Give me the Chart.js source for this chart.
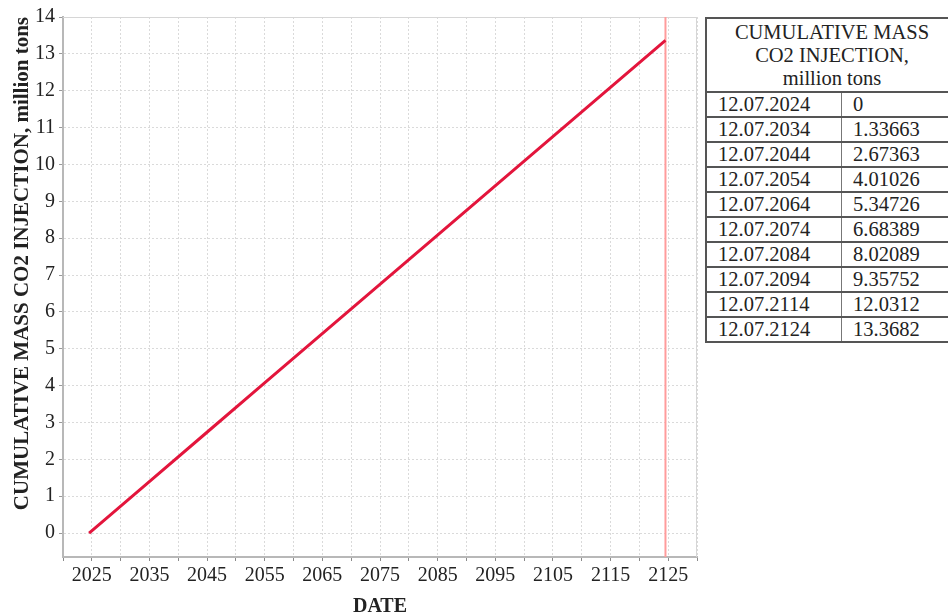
<!DOCTYPE html>
<html lang="en">
<head>
<meta charset="UTF-8">
<title>Cumulative mass CO2 injection</title>
<style>
    body {
        margin: 0;
        width: 948px;
        height: 616px;
        overflow: hidden;
        background: #fff;
        font-family: "Liberation Serif", "Times New Roman", serif;
        position: relative;
    }
    #chartBox {
        position: absolute;
        left: 0;
        top: 0;
        width: 700px;
        height: 616px;
    }
    #massTable {
        position: absolute;
        left: 705px;
        top: 17px;
        width: 254px;
        border-collapse: collapse;
        font-size: 20.5px;
        color: #222;
        line-height: 1;
    }
    #massTable th {
        font-weight: normal;
        line-height: 23px;
        padding: 2px 0 1px 0;
        border: 2px solid #555;
        height: 64px;
    }
    #massTable td {
        height: 21px;
        padding: 1px 0 1px 11px;
        border-top: 2px solid #555;
        border-bottom: 2px solid #555;
        border-left: 1px solid #777;
        border-right: 1px solid #777;
    }
    #massTable td:first-child {
        width: 123px;
        border-left: 2px solid #555;
    }
</style>
</head>
<body>
<div id="chartBox">
    <canvas id="massChart" width="700" height="616"></canvas>
</div>
<table id="massTable">
    <thead>
        <tr><th colspan="2">CUMULATIVE MASS<br>CO2 INJECTION,<br>million tons</th></tr>
    </thead>
    <tbody id="massRows"></tbody>
</table>
<script src="https://cdn.jsdelivr.net/npm/chart.js"></script>
<script>
    // injection dates (dd.mm.yyyy) and cumulative mass, million tons
    const dates = ['12.07.2024', '12.07.2034', '12.07.2044', '12.07.2054', '12.07.2064',
                   '12.07.2074', '12.07.2084', '12.07.2094', '12.07.2114', '12.07.2124'];
    const massValues = [0, 1.33663, 2.67363, 4.01026, 5.34726, 6.68389, 8.02089, 9.35752, 12.0312, 13.3682];

    // axis ticks
    const yTicks = [0, 1, 2, 3, 4, 5, 6, 7, 8, 9, 10, 11, 12, 13, 14];
    const xGridYears = [2020, 2025, 2030, 2035, 2040, 2045, 2050, 2055, 2060, 2065, 2070, 2075,
                        2080, 2085, 2090, 2095, 2100, 2105, 2110, 2115, 2120, 2125, 2130];
    const xTickLabels = [2025, 2035, 2045, 2055, 2065, 2075, 2085, 2095, 2105, 2115, 2125];

    // fill the side table
    const rows = document.getElementById('massRows');
    dates.forEach((d, i) => {
        const tr = document.createElement('tr');
        tr.innerHTML = `<td>${d}</td><td>${massValues[i]}</td>`;
        rows.appendChild(tr);
    });

    function toYear(str) {
        const [dd, mm, yyyy] = str.split('.').map(Number);
        const start = Date.UTC(yyyy, 0, 1);
        const day = (Date.UTC(yyyy, mm - 1, dd) - start) / 86400000;
        return yyyy + day / 365;
    }

    const points = dates.map((d, i) => ({ x: toYear(d), y: massValues[i] }));
    const lastYear = points[points.length - 1].x;

    const serif = '"Liberation Serif", "Times New Roman", serif';

    // frame around the plot and the marker line at the final date
    const framePlugin = {
        id: 'frame',
        beforeDatasetsDraw(chart) {
            const { ctx, chartArea, scales } = chart;
            ctx.save();
            ctx.strokeStyle = '#d6d6d6';
            ctx.lineWidth = 1;
            ctx.beginPath();
            ctx.moveTo(chartArea.left, chartArea.top + 0.5);
            ctx.lineTo(chartArea.right - 0.5, chartArea.top + 0.5);
            ctx.lineTo(chartArea.right - 0.5, chartArea.bottom);
            ctx.stroke();
            const x = scales.x.getPixelForValue(lastYear);
            ctx.strokeStyle = '#ff9c9c';
            ctx.lineWidth = 2;
            ctx.beginPath();
            ctx.moveTo(x, chartArea.top);
            ctx.lineTo(x, chartArea.bottom);
            ctx.stroke();
            ctx.restore();
        }
    };

    new Chart(document.getElementById('massChart'), {
        type: 'line',
        data: {
            datasets: [{
                data: points,
                borderColor: '#e3153c',
                borderWidth: 3,
                pointRadius: 0,
                tension: 0,
                fill: false
            }]
        },
        options: {
            responsive: false,
            animation: false,
            layout: { padding: { top: 17, right: 2, left: 0, bottom: 0 } },
            plugins: {
                legend: { display: false },
                tooltip: { enabled: false }
            },
            scales: {
                x: {
                    type: 'linear',
                    min: 2020,
                    max: 2130,
                    afterFit(scale) { scale.height = 59; },
                    afterBuildTicks(scale) {
                        scale.ticks = xGridYears.map(v => ({ value: v }));
                    },
                    ticks: {
                        autoSkip: false,
                        maxRotation: 0,
                        padding: 3,
                        color: '#222',
                        font: { family: serif, size: 20 },
                        callback: v => xTickLabels.includes(v) ? String(v) : ''
                    },
                    grid: {
                        color: '#dadada',
                        tickLength: 4,
                        tickColor: '#8a8a8a',
                        tickBorderDash: []
                    },
                    border: { color: '#b8b8b8', width: 2, dash: [2, 2] },
                    title: {
                        display: true,
                        text: 'DATE',
                        color: '#222',
                        font: { family: serif, size: 20, weight: 'bold' },
                        padding: { top: 0, bottom: -3 }
                    }
                },
                y: {
                    min: -0.65,
                    max: 14,
                    afterFit(scale) { scale.width = 63; },
                    afterBuildTicks(scale) {
                        scale.ticks = yTicks.map(v => ({ value: v }));
                    },
                    ticks: {
                        padding: 4,
                        color: '#222',
                        font: { family: serif, size: 20 }
                    },
                    grid: {
                        color: '#dadada',
                        tickLength: 4,
                        tickColor: '#9a9a9a',
                        tickBorderDash: []
                    },
                    border: { color: '#b8b8b8', width: 2, dash: [2, 2] },
                    title: {
                        display: true,
                        text: 'CUMULATIVE MASS CO2 INJECTION, million tons',
                        align: 'end',
                        color: '#222',
                        font: { family: serif, size: 21, weight: 'bold' },
                        padding: { top: 10, bottom: 0 }
                    }
                }
            }
        },
        plugins: [framePlugin]
    });
</script>
</body>
</html>
